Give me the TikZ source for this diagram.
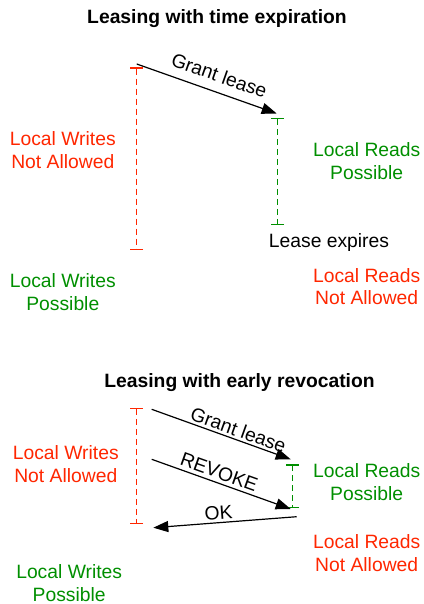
\documentclass[tikz,border=0pt]{standalone}
\usepackage{fontspec}
\setmainfont{Liberation Sans}
\usetikzlibrary{arrows.meta}
\definecolor{leasered}{RGB}{255,38,0}
\definecolor{leasegreen}{RGB}{0,143,0}
\tikzset{
  period/.style={line width=1.5pt, dash pattern=on 6pt off 4pt, {Bar[width=13pt]}-{Bar[width=13pt]}},
  msg/.style={line width=1.2pt, -{Triangle[length=15pt,width=11pt]}},
  lbl/.style={font=\fontsize{19.3}{22.5}\selectfont, align=center, inner sep=0pt, text height=14pt, text depth=0pt},
  title/.style={lbl, font=\fontsize{19.3}{22.5}\selectfont\bfseries},
  msglbl/.style={lbl, sloped, anchor=south, outer sep=#1},
}
\begin{document}
\begin{tikzpicture}[x=1pt, y=-1pt]
  \useasboundingbox (0, 0) rectangle (423, 604);
  \node [title] (title1) at (217, 17) {Leasing with time expiration};
  \coordinate (w1top) at (136.7, 67.5);
  \coordinate (w1bot) at (136.7, 250);
  \coordinate (r1top) at (277.7, 117.7);
  \coordinate (r1bot) at (277.7, 225);
  \coordinate (g1from) at (136.7, 64);
  \coordinate (g1to) at (276.7, 113.5);
  \draw [period, leasered] (w1top) -- (w1bot);
  \draw [period, leasegreen] (r1top) -- (r1bot);
  \draw [msg] (g1from) -- node [msglbl=10pt, pos=0.55] {Grant lease} (g1to);
  \node [lbl, text=leasered] (wna1) at (62.8, 161) {Local Writes\\Not Allowed};
  \node [lbl, text=leasegreen] (rp1) at (366.7, 172.3) {Local Reads\\Possible};
  \node [lbl] (expire) at (329, 240.7) {Lease expires};
  \node [lbl, text=leasegreen] (wp1) at (62.8, 303.3) {Local Writes\\Possible};
  \node [lbl, text=leasered] (rna1) at (366.7, 297.7) {Local Reads\\Not Allowed};

  \node [title] (title2) at (239.5, 380) {Leasing with early revocation};
  \coordinate (w2top) at (136.7, 407.7);
  \coordinate (w2bot) at (136.7, 524);
  \coordinate (r2top) at (292.7, 464.3);
  \coordinate (r2bot) at (292.7, 508.3);
  \coordinate (g2from) at (151.7, 409.3);
  \coordinate (g2to) at (290.7, 459.3);
  \coordinate (v2from) at (151.7, 459.3);
  \coordinate (v2to) at (290.7, 509);
  \coordinate (ok2from) at (296.7, 516.7);
  \coordinate (ok2to) at (153.3, 527.7);
  \draw [period, leasered] (w2top) -- (w2bot);
  \draw [period, leasegreen] (r2top) -- (r2bot);
  \draw [msg] (g2from) -- node [msglbl=3pt, pos=0.6] {Grant lease} (g2to);
  \draw [msg] (v2from) -- node [msglbl=4pt, pos=0.46] {REVOKE} (v2to);
  \draw [msg] (ok2from) -- node [msglbl=3pt, pos=0.54] {OK} (ok2to);
  \node [lbl, text=leasered] (wna2) at (65.8, 475) {Local Writes\\Not Allowed};
  \node [lbl, text=leasegreen] (rp2) at (366.7, 493.3) {Local Reads\\Possible};
  \node [lbl, text=leasered] (rna2) at (366.7, 564) {Local Reads\\Not Allowed};
  \node [lbl, text=leasegreen] (wp2) at (69.2, 594.3) {Local Writes\\Possible};
\end{tikzpicture}
\end{document}
